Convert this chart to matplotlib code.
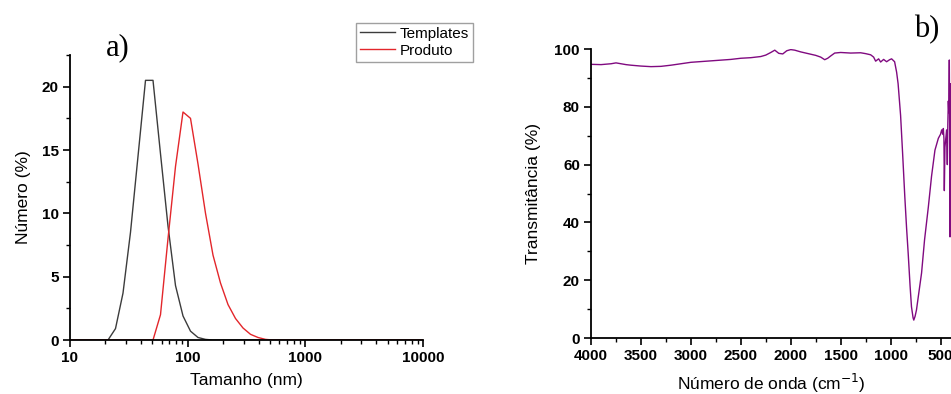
import matplotlib
matplotlib.use('Agg')
import matplotlib.pyplot as plt
from matplotlib.ticker import MultipleLocator, LogLocator, NullFormatter

plt.rcParams['font.family'] = ['Liberation Sans', 'DejaVu Sans']

# DLS size distribution (a)
sizes = [10, 18.17, 21.04, 24.36, 28.21, 32.67, 37.84, 43.82, 50.75, 58.77, 68.06,
         78.82, 91.28, 105.7, 122.4, 141.8, 164.2, 190.1, 220.2, 255.0, 295.3,
         342.0, 396.1, 458.7, 531.2, 10000]
templates = [0, 0, 0, 0.9, 3.7, 8.5, 14.5, 20.5, 20.5, 14.7, 9.0,
             4.3, 1.9, 0.7, 0.2, 0.05, 0, 0, 0, 0, 0,
             0, 0, 0, 0, 0]
produto = [0, 0, 0, 0, 0, 0, 0, 0, 0, 2.0, 8.0,
           13.7, 18.0, 17.5, 13.9, 10.0, 6.7, 4.5, 2.8, 1.7, 0.95,
           0.45, 0.2, 0.05, 0, 0]

# FTIR spectrum (b)
wavenumber = [4000, 3900, 3800, 3750, 3700, 3650, 3600, 3500, 3400, 3300, 3200,
              3000, 2800, 2600, 2500, 2400, 2300, 2250, 2200, 2160, 2120, 2080,
              2040, 2000, 1960, 1900, 1850, 1800, 1750, 1700, 1660, 1630, 1600,
              1560, 1500, 1400, 1300, 1250, 1200, 1170, 1150, 1120, 1100, 1070,
              1040, 1010, 990, 960, 940, 925, 900, 880, 858, 840, 824, 805, 791,
              775, 768, 755, 741, 720, 690, 660, 622, 590, 556, 522, 500, 489,
              478, 472, 466, 462, 456, 449, 439, 432, 427, 422, 417, 412, 408,
              405, 403, 401, 400]
transmit = [94.7, 94.6, 94.9, 95.2, 94.9, 94.6, 94.4, 94.1, 93.9, 94.0, 94.4,
            95.4, 95.9, 96.4, 96.8, 97.0, 97.4, 97.9, 98.8, 99.6, 98.5, 98.3,
            99.4, 99.8, 99.6, 99.0, 98.6, 98.2, 97.8, 97.2, 96.3, 96.8, 97.6,
            98.6, 98.8, 98.6, 98.7, 98.4, 98.0, 97.2, 95.8, 96.6, 95.5, 96.4,
            95.6, 96.3, 96.6, 95.6, 92.0, 88.0, 77.0, 64.0, 49.0, 38.0, 29.3,
            18.0, 10.8, 7.0, 6.2, 7.5, 9.7, 15.0, 22.5, 34.0, 45.4, 56.0, 65.0,
            69.1, 70.5, 72.0, 70.5, 72.5, 69.0, 51.0, 66.0, 68.5, 72.0, 60.0,
            74.0, 82.0, 78.0, 96.2, 70.0, 35.0, 88.0, 55.0, 45.0]

fig = plt.figure(figsize=(9.51, 3.94), dpi=100)

tick_font = {'fontsize': 11, 'fontweight': 'bold'}

# ---- panel a ----
ax1 = fig.add_axes([0.0736, 0.137, 0.3712, 0.7234])
ax1.plot(sizes, templates, color='#3c3c3c', lw=1.0, label='Templates')
ax1.plot(sizes, produto, color='#e3262b', lw=1.0, label='Produto')
ax1.set_xscale('log')
ax1.set_xlim(10, 10000)
ax1.set_ylim(0, 22.5)
ax1.set_xticks([10, 100, 1000, 10000])
ax1.set_xticklabels(['10', '100', '1000', '10000'], **tick_font)
ax1.xaxis.set_minor_locator(LogLocator(base=10, subs=range(2, 10)))
ax1.xaxis.set_minor_formatter(NullFormatter())
ax1.set_yticks([0, 5, 10, 15, 20])
ax1.set_yticklabels(['0', '5', '10', '15', '20'], **tick_font)
ax1.yaxis.set_minor_locator(MultipleLocator(2.5))
ax1.set_xlabel('Tamanho (nm)', fontsize=12.5, labelpad=6)
ax1.set_ylabel('Número (%)', fontsize=12.5, labelpad=8)
ax1.legend(loc='upper right', bbox_to_anchor=(0.497, 0.942),
           bbox_transform=fig.transFigure, fontsize=11, frameon=True,
           fancybox=False, edgecolor='#888888', handlelength=2.3,
           handletextpad=0.3, labelspacing=0.2, borderpad=0.25,
           borderaxespad=0)
fig.text(0.124, 0.878, 'a)', fontsize=22, family='Liberation Serif',
         ha='center', va='center')

# ---- panel b ----
ax2 = fig.add_axes([0.6215, 0.1421, 0.378, 0.7335])
ax2.plot(wavenumber, transmit, color='#800a80', lw=1.0)
ax2.set_xlim(4000, 400)
ax2.set_ylim(0, 100)
xt = [4000, 3500, 3000, 2500, 2000, 1500, 1000, 500]
ax2.set_xticks(xt)
ax2.set_xticklabels([str(v) for v in xt], **tick_font)
ax2.xaxis.set_minor_locator(MultipleLocator(250))
yt = [0, 20, 40, 60, 80, 100]
ax2.set_yticks(yt)
ax2.set_yticklabels([str(v) for v in yt], **tick_font)
ax2.yaxis.set_minor_locator(MultipleLocator(10))
ax2.set_xlabel('Número de onda (cm$^{-1}$)', fontsize=12.5, labelpad=6)
ax2.set_ylabel('Transmitância (%)', fontsize=12.5, labelpad=10)
fig.text(0.975, 0.924, 'b)', fontsize=22, family='Liberation Serif',
         ha='center', va='center')

for ax in (ax1, ax2):
    ax.spines['top'].set_visible(False)
    ax.spines['right'].set_visible(False)
    ax.spines['left'].set_linewidth(1.3)
    ax.spines['bottom'].set_linewidth(1.3)
    ax.tick_params(which='major', length=5, width=1.2, direction='out', pad=3)
    ax.tick_params(which='minor', length=3, width=1.0, direction='out')

fig.savefig('out.png', dpi=100)
